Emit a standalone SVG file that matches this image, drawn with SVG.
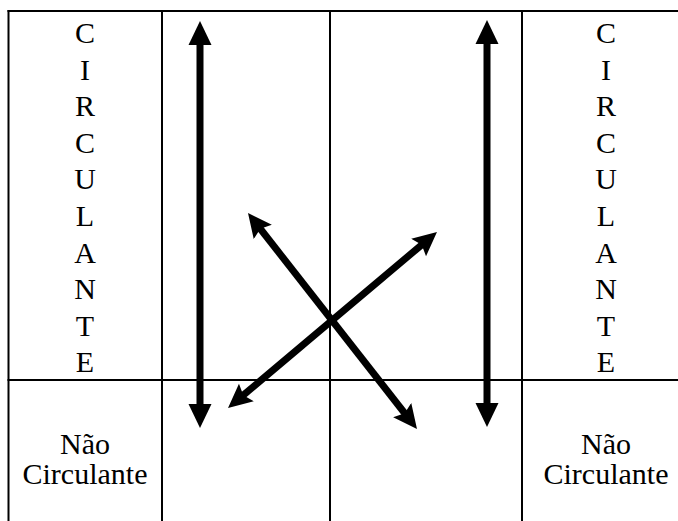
<svg xmlns="http://www.w3.org/2000/svg" width="678" height="521" viewBox="0 0 678 521">
  <style>
    .grid { stroke: #000; stroke-width: 2; fill: none; }
    .arrow { stroke: #000; stroke-width: 7; fill: none; }
    text { font-family: 'Liberation Serif', 'Times New Roman', Tinos, 'DejaVu Serif', serif; font-size: 30px; fill: #000; text-anchor: middle; }
  </style>
  <defs>
    <marker id="head" markerUnits="userSpaceOnUse" markerWidth="30" markerHeight="30" refX="12" refY="12" orient="auto-start-reverse">
      <path d="M0,0.5 L24,12 L0,23.5 Z" fill="#000"/>
    </marker>
    <marker id="headNotch" markerUnits="userSpaceOnUse" markerWidth="30" markerHeight="30" refX="12" refY="12" orient="auto-start-reverse">
      <path d="M0,0.5 L24,12 L0,23.5 L4,12 Z" fill="#000"/>
    </marker>
  </defs>
  <rect width="678" height="521" fill="#fff"/>
  <g id="table">
    <line class="grid" x1="7.5" y1="11" x2="678" y2="11"/>
    <line class="grid" x1="7.5" y1="380" x2="678" y2="380"/>
    <line class="grid" x1="8.5" y1="10" x2="8.5" y2="521"/>
    <line class="grid" x1="162" y1="10" x2="162" y2="521"/>
    <line class="grid" x1="330" y1="10" x2="330" y2="521"/>
    <line class="grid" x1="522" y1="10" x2="522" y2="521"/>
  </g>
  <g id="circulante-left">
    <text x="85" y="43">C</text>
    <text x="85" y="79.5">I</text>
    <text x="85" y="116">R</text>
    <text x="85" y="152.5">C</text>
    <text x="85" y="189">U</text>
    <text x="85" y="226">L</text>
    <text x="85" y="262.5">A</text>
    <text x="85" y="299">N</text>
    <text x="85" y="335.5">T</text>
    <text x="85" y="372">E</text>
  </g>
  <g id="circulante-right">
    <text x="606" y="43">C</text>
    <text x="606" y="79.5">I</text>
    <text x="606" y="116">R</text>
    <text x="606" y="152.5">C</text>
    <text x="606" y="189">U</text>
    <text x="606" y="226">L</text>
    <text x="606" y="262.5">A</text>
    <text x="606" y="299">N</text>
    <text x="606" y="335.5">T</text>
    <text x="606" y="372">E</text>
  </g>
  <g id="nao-circulante-left">
    <text x="85" y="454">Não</text>
    <text x="85" y="484">Circulante</text>
  </g>
  <g id="nao-circulante-right">
    <text x="606" y="454">Não</text>
    <text x="606" y="484">Circulante</text>
  </g>
  <g id="connectors">
    <line class="arrow" x1="200" y1="33" x2="200" y2="416" marker-start="url(#head)" marker-end="url(#head)"/>
    <line class="arrow" x1="487" y1="32" x2="487" y2="415" marker-start="url(#head)" marker-end="url(#head)"/>
    <line class="arrow" x1="255.4" y1="222.5" x2="409.6" y2="419.5" marker-start="url(#headNotch)" marker-end="url(#headNotch)"/>
    <line class="arrow" x1="237.2" y1="400.3" x2="427.8" y2="239.7" marker-start="url(#headNotch)" marker-end="url(#headNotch)"/>
  </g>
</svg>
